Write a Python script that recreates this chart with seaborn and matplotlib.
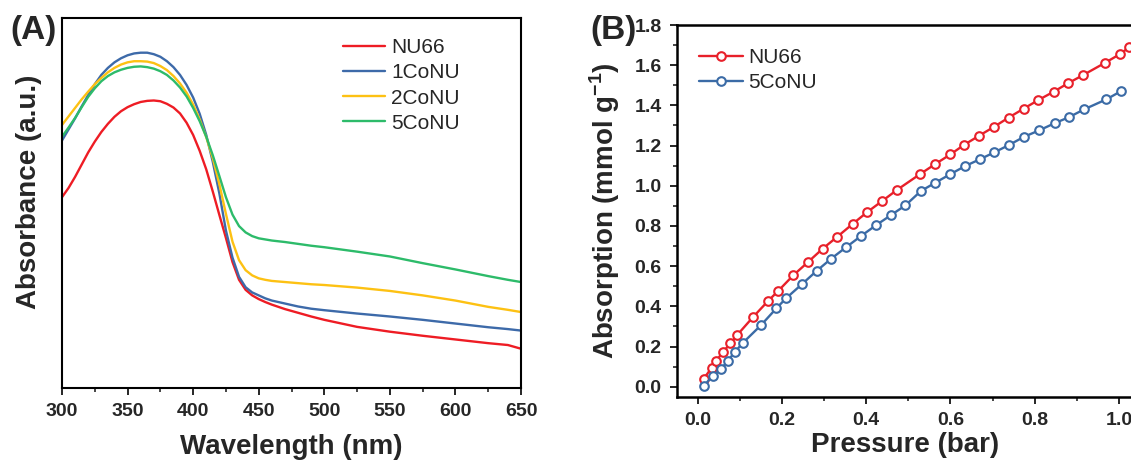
import numpy as np
import pandas as pd
import matplotlib
matplotlib.use("Agg")
import matplotlib.pyplot as plt
from matplotlib.ticker import MultipleLocator, FormatStrFormatter
import seaborn as sns

# ---------------- Panel A data (UV-vis, arbitrary units) ----------------
wavelength = [300, 305, 310, 315, 320, 325, 330, 335, 340, 345, 350, 355, 360,
              365, 370, 375, 380, 385, 390, 395, 400, 405, 410, 415, 420, 425,
              430, 435, 440, 445, 450, 455, 460, 470, 480, 490, 500, 525, 550,
              575, 600, 625, 640, 650]
abs_nu66 = [0.515, 0.540, 0.570, 0.603, 0.636, 0.665, 0.691, 0.713, 0.732, 0.747,
            0.758, 0.766, 0.772, 0.775, 0.776, 0.774, 0.767, 0.757, 0.741, 0.716,
            0.683, 0.640, 0.590, 0.530, 0.467, 0.405, 0.340, 0.292, 0.265, 0.250,
            0.240, 0.232, 0.225, 0.213, 0.203, 0.193, 0.184, 0.165, 0.152, 0.141,
            0.131, 0.121, 0.116, 0.106]
abs_1conu = [0.668, 0.698, 0.728, 0.760, 0.791, 0.820, 0.845, 0.864, 0.879, 0.890,
             0.898, 0.903, 0.905, 0.905, 0.901, 0.894, 0.882, 0.866, 0.845, 0.818,
             0.784, 0.740, 0.683, 0.610, 0.525, 0.425, 0.352, 0.300, 0.272, 0.258,
             0.250, 0.242, 0.236, 0.228, 0.220, 0.214, 0.210, 0.201, 0.193, 0.184,
             0.174, 0.164, 0.159, 0.155]
abs_2conu = [0.710, 0.733, 0.756, 0.779, 0.800, 0.820, 0.837, 0.852, 0.864, 0.873,
             0.879, 0.882, 0.882, 0.881, 0.877, 0.869, 0.858, 0.842, 0.822, 0.797,
             0.765, 0.725, 0.677, 0.620, 0.550, 0.470, 0.395, 0.345, 0.318, 0.304,
             0.296, 0.292, 0.289, 0.286, 0.283, 0.280, 0.278, 0.271, 0.262, 0.250,
             0.236, 0.219, 0.211, 0.205]
abs_5conu = [0.678, 0.703, 0.729, 0.758, 0.786, 0.809, 0.828, 0.842, 0.852, 0.859,
             0.864, 0.867, 0.868, 0.866, 0.862, 0.855, 0.845, 0.830, 0.811, 0.787,
             0.756, 0.720, 0.678, 0.628, 0.572, 0.515, 0.468, 0.437, 0.420, 0.410,
             0.404, 0.401, 0.398, 0.394, 0.389, 0.384, 0.380, 0.368, 0.355, 0.337,
             0.320, 0.302, 0.292, 0.286]
uv_labels = ["NU66", "1CoNU", "2CoNU", "5CoNU"]
uv_colors = ["#ee1c24", "#3d6aa9", "#fdc113", "#2dbb6a"]

# ---------------- Panel B data (isotherms) ----------------
p_nu66 = [0.015, 0.034, 0.044, 0.061, 0.078, 0.094, 0.131, 0.168, 0.192, 0.227,
          0.263, 0.297, 0.332, 0.368, 0.402, 0.438, 0.473, 0.528, 0.564, 0.600,
          0.632, 0.668, 0.704, 0.738, 0.774, 0.809, 0.845, 0.879, 0.915, 0.967,
          1.003, 1.024]
q_nu66 = [0.041, 0.095, 0.128, 0.174, 0.216, 0.257, 0.345, 0.428, 0.478, 0.554,
          0.622, 0.687, 0.747, 0.810, 0.868, 0.924, 0.979, 1.058, 1.108, 1.156,
          1.203, 1.249, 1.294, 1.339, 1.384, 1.427, 1.468, 1.510, 1.551, 1.612,
          1.656, 1.689]
p_5conu = [0.015, 0.036, 0.055, 0.072, 0.089, 0.108, 0.151, 0.187, 0.210, 0.247,
           0.283, 0.317, 0.353, 0.388, 0.423, 0.459, 0.493, 0.530, 0.564, 0.600,
           0.635, 0.671, 0.704, 0.740, 0.775, 0.811, 0.847, 0.881, 0.917, 0.970,
           1.005]
q_5conu = [0.005, 0.053, 0.086, 0.129, 0.174, 0.219, 0.307, 0.390, 0.440, 0.509,
           0.577, 0.637, 0.695, 0.750, 0.803, 0.854, 0.902, 0.974, 1.015, 1.058,
           1.098, 1.133, 1.166, 1.204, 1.244, 1.276, 1.311, 1.341, 1.380, 1.430,
           1.471]
iso_labels = ["NU66", "5CoNU"]
iso_colors = ["#e8202a", "#3b6ba6"]

sns.set_style("ticks")
plt.rcParams["font.family"] = ["Liberation Sans", "DejaVu Sans"]
plt.rcParams["mathtext.fontset"] = "custom"
plt.rcParams["mathtext.rm"] = "Liberation Sans"
plt.rcParams["mathtext.bf"] = "Liberation Sans:bold"

W, H = 1131, 463
fig = plt.figure(figsize=(W / 100, H / 100), dpi=100)

def fx(px):
    return px / W

def fy(py):
    return 1 - py / H

# ---------------- Panel A ----------------
axA = fig.add_axes([fx(62), fy(388), fx(521) - fx(62), fy(17.5) - fy(388)])
dfA = pd.DataFrame({
    "wavelength": wavelength * 4,
    "absorbance": abs_nu66 + abs_1conu + abs_2conu + abs_5conu,
    "sample": sum([[l] * len(wavelength) for l in uv_labels], []),
})
sns.lineplot(data=dfA, x="wavelength", y="absorbance", hue="sample",
             hue_order=uv_labels, palette=uv_colors, ax=axA, lw=1.7, sort=True)
axA.set_xlim(300, 650)
axA.set_ylim(0, 1)
axA.xaxis.set_major_locator(MultipleLocator(50))
axA.xaxis.set_minor_locator(MultipleLocator(25))
axA.set_yticks([])
axA.tick_params(axis="x", which="major", direction="out", length=5, width=1.4,
                pad=6, labelsize=14)
axA.tick_params(axis="x", which="minor", direction="out", length=3, width=1.2)
for lab in axA.get_xticklabels():
    lab.set_fontweight("bold")
for s in axA.spines.values():
    s.set_linewidth(1.5)
    s.set_color("black")
axA.set_xlabel("Wavelength (nm)", fontsize=20, fontweight="bold")
axA.set_ylabel("Absorbance (a.u.)", fontsize=20, fontweight="bold")
axA.xaxis.set_label_coords(0.5, -0.125)
axA.yaxis.set_label_coords(-0.044, 0.53)
legA = axA.legend(loc="upper left", bbox_to_anchor=(fx(343), fy(38)),
                  bbox_transform=fig.transFigure, frameon=False, fontsize=15,
                  handlelength=2.0, handletextpad=0.3, labelspacing=0.3,
                  borderpad=0, borderaxespad=0)
for line in legA.get_lines():
    line.set_linewidth(1.7)
fig.text(fx(33), fy(31), "(A)", fontsize=24, fontweight="bold",
         ha="center", va="center")

# ---------------- Panel B ----------------
x0px, x1px = 697.5, 1119.0
xmin = (677 - x0px) / (x1px - x0px)
xmax = (1146 - x0px) / (x1px - x0px)
axB = fig.add_axes([fx(677), fy(397), fx(1146) - fx(677), fy(25) - fy(397)])
for p, q, lab, col in [(p_nu66, q_nu66, iso_labels[0], iso_colors[0]),
                       (p_5conu, q_5conu, iso_labels[1], iso_colors[1])]:
    sns.lineplot(x=p, y=q, ax=axB, color=col, lw=1.7, marker="o", markersize=6.2,
                 markerfacecolor="white", markeredgecolor=col,
                 markeredgewidth=1.5, label=lab, sort=False)
axB.set_xlim(xmin, xmax)
axB.set_ylim(-0.051, 1.8)
axB.xaxis.set_major_locator(MultipleLocator(0.2))
axB.xaxis.set_minor_locator(MultipleLocator(0.1))
axB.yaxis.set_major_locator(MultipleLocator(0.2))
axB.yaxis.set_minor_locator(MultipleLocator(0.1))
axB.xaxis.set_major_formatter(FormatStrFormatter("%.1f"))
axB.yaxis.set_major_formatter(FormatStrFormatter("%.1f"))
axB.tick_params(which="major", direction="out", length=5, width=1.4, pad=6,
                labelsize=14)
axB.tick_params(which="minor", direction="out", length=3, width=1.2)
for lab in axB.get_xticklabels() + axB.get_yticklabels():
    lab.set_fontweight("bold")
for s in axB.spines.values():
    s.set_linewidth(1.8)
    s.set_color("black")
axB.set_xlabel("Pressure (bar)", fontsize=20, fontweight="bold")
axB.set_ylabel(r"Absorption (mmol g$^{\mathbf{-1}}$)", fontsize=20,
               fontweight="bold")
axB.xaxis.set_label_coords((fx(905) - fx(677)) / (fx(1146) - fx(677)), -0.094)
axB.yaxis.set_label_coords(-0.117, 0.5)
legB = axB.legend(loc="upper left", bbox_to_anchor=(fx(699), fy(48)),
                  bbox_transform=fig.transFigure, frameon=False, fontsize=15,
                  handlelength=2.1, handletextpad=0.25, labelspacing=0.3,
                  borderpad=0, borderaxespad=0)
fig.text(fx(613), fy(31), "(B)", fontsize=24, fontweight="bold",
         ha="center", va="center")

fig.savefig("out.png", dpi=100)
